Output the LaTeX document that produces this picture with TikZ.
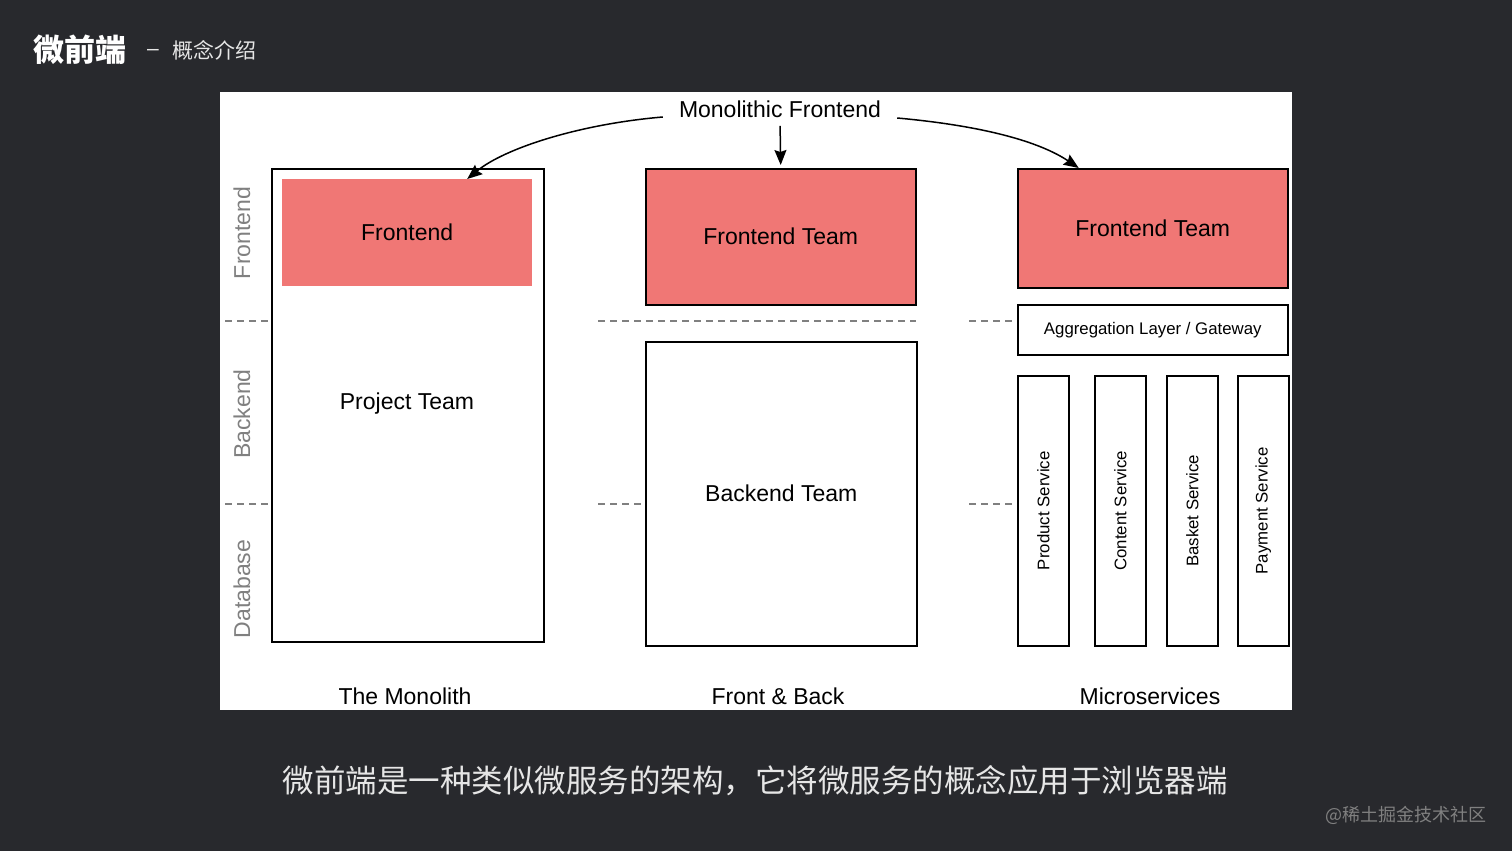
\documentclass[tikz,border=0pt]{standalone}
\usepackage{fontspec}
\setmainfont{Liberation Sans}
\newfontfamily\cjk{Noto Sans CJK SC}
\usetikzlibrary{arrows.meta,positioning}
\definecolor{slidebg}{HTML}{28292D}
\definecolor{teamred}{HTML}{F07775}
\definecolor{axisgray}{HTML}{808080}
\definecolor{captiongray}{HTML}{E6E6E6}
\tikzset{
    lbl/.style = {
        font=\fontsize{23}{27}\selectfont,
        },
    small lbl/.style = {
        font=\fontsize{16.8}{20}\selectfont,
        },
    layer lbl/.style = {
        rotate=90,
        text=axisgray,
        font=\fontsize{23}{27}\selectfont,
        },
    team/.style = {
        draw,
        line width=1.5,
        fill=teamred,
        anchor=north west,
        lbl,
        },
    plain box/.style = {
        draw,
        line width=1.5,
        fill=white,
        anchor=north west,
        },
    service/.style = {
        plain box,
        minimum width=51,
        minimum height=270,
        },
    service lbl/.style = {
        rotate=90,
        small lbl,
        },
    divider/.style = {
        axisgray,
        line width=1.5,
        dash pattern=on 7pt off 5pt,
        },
    arrow/.style = {
        -{Stealth[length=15pt,width=12pt,inset=2pt]},
        line width=1.5,
        },
}

\begin{document}
\begin{tikzpicture}[x=1pt, y=-1pt]
    \fill[slidebg] (0,0) rectangle (1512,851);
    \useasboundingbox (0,0) rectangle (1512,851);
    \fill[white] (220,92) rectangle (1292,710);

    % heading
    \node[anchor=west, inner sep=0, text=white, font=\cjk\bfseries\fontsize{31}{36}\selectfont] (title) at (33,50) {微前端};
    \node[inner sep=0, text=captiongray, font=\fontsize{21}{25}\selectfont] (dash) at (153,52) {–};
    \node[anchor=west, inner sep=0, text=captiongray, font=\cjk\fontsize{21}{25}\selectfont] (subtitle) at (172,50) {概念介绍};

    % diagram
    \node[lbl, inner xsep=16pt] (mf) at (780,109) {Monolithic Frontend};

    \node[draw, line width=2, anchor=north west, minimum width=272, minimum height=473] (mono) at (271,168) {};
    \node[lbl, fill=teamred, anchor=north west, minimum width=250, minimum height=107] (monofe) at (282,179) {Frontend};
    \node[lbl] (proj) at (407,404) {Project Team};

    \node[team, minimum width=270, minimum height=136] (fe2) at (645,168) {Frontend Team};
    \node[plain box, lbl, minimum width=271, minimum height=304] (be2) at (645,341) {Backend Team};

    \node[team, minimum width=270, minimum height=119] (fe3) at (1017,168) {Frontend Team};
    \node[plain box, small lbl, minimum width=270, minimum height=50] (gw) at (1017,304) {Aggregation Layer / Gateway};
    \foreach \x/\name/\txt in {1017/product/Product Service, 1094/content/Content Service,
                               1166/basket/Basket Service, 1237/payment/Payment Service} {
        \node[service] (\name) at (\x,375) {};
        \node[service lbl] at (\name.center) {\txt};
    }

    % layers
    \node[layer lbl] (lfront) at (242,233) {Frontend};
    \node[layer lbl] (lback) at (242,414) {Backend};
    \node[layer lbl] (ldb) at (242,589) {Database};
    \draw[divider] (225,321) -- (271,321);
    \draw[divider] (225,504) -- (271,504);
    \draw[divider] (598,321) -- (916,321);
    \draw[divider] (598,504) -- (645,504);
    \draw[divider] (969,321) -- (1016,321);
    \draw[divider] (969,504) -- (1016,504);

    \draw[arrow] ([yshift=-8]mf.west) .. controls (580,124) and (505,148) .. ([xshift=60]monofe.north);
    \draw[arrow, shorten <=5pt, shorten >=3pt] (mf.south) -- (fe2.north);
    \draw[arrow] ([yshift=-9]mf.east) .. controls (985,126) and (1040,142) .. ([xshift=-74]fe3.north);

    \node[lbl] (cap1) at (405,696) {The Monolith};
    \node[lbl] (cap2) at (778,696) {Front \& Back};
    \node[lbl] (cap3) at (1150,696) {Microservices};

    % caption
    \node[text=captiongray, font=\cjk\fontsize{31.5}{36}\selectfont] (caption) at (755,781) {微前端是一种类似微服务的架构，它将微服务的概念应用于浏览器端};
    \node[anchor=east, text=axisgray, font=\cjk\fontsize{18}{22}\selectfont] (mark) at (1490,815) {@稀土掘金技术社区};
\end{tikzpicture}
\end{document}
